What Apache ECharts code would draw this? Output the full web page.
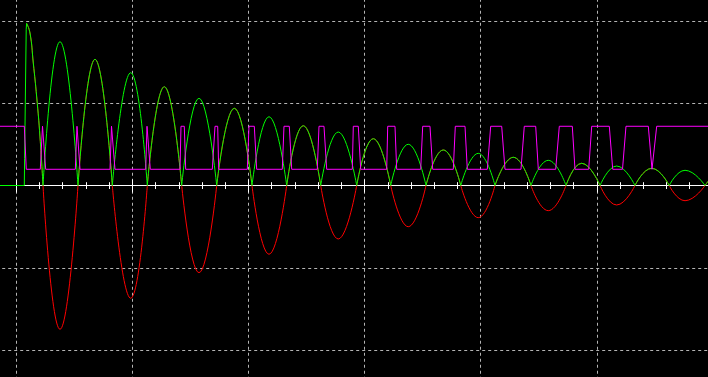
<!DOCTYPE html>
<html><head><meta charset="utf-8">
<script src="https://cdn.jsdelivr.net/npm/echarts@6/dist/echarts.min.js"></script>
<style>html,body{margin:0;padding:0;background:#000;}#c{width:708px;height:377px;}</style>
</head><body><div id="c"></div>
<script>
// Time in screen divisions, amplitude in vertical divisions
// Damped oscillation: zero crossings, extremes (time, value)
const zeroT = [0.230, 0.5314, 0.8269, 1.1283, 1.4246, 1.7261, 2.0301, 2.329, 2.622, 2.932,
               3.225, 3.529, 3.828, 4.123, 4.433, 4.735, 5.028, 5.329, 5.624, 5.932, 6.23];
const peakT = [0.3764, 0.6779, 0.9854, 1.2748, 1.5736, 1.8777, 2.1766, 2.472, 2.773, 3.075,
               3.376, 3.678, 3.979, 4.281, 4.582, 4.870, 5.171, 5.473, 5.760, 6.08];
const peakV = [-1.748, 1.534, -1.371, 1.201, -1.060, 0.939, -0.836, 0.727, -0.650, 0.569,
               -0.501, 0.432, -0.391, 0.343, -0.306, 0.270, -0.237, 0.209, -0.185, 0.16];
// First falling quarter after the step
const headT = [0.0887, 0.118, 0.1464, 0.1757, 0.2041, 0.230];
const headV = [1.972, 1.854, 1.489, 1.076, 0.590, 0];
// Step at trigger (rectified trace)
const leadT = [-0.3, 0.0689, 0.0715, 0.0801, 0.0853, 0.0887];
const leadV = [0, 0, 0.33, 0.33, 1.9, 1.972];
// Digital trace levels and edges
const magHigh = 0.72, magLow = 0.197;
const magStartT = [-0.3, 0.0689, 0.0861];
const riseStart = [0.2067,0.5082,0.8071,1.1146,1.4100,1.6882,1.9897,2.2911,2.5926,2.8941,3.1904,3.4832,3.7640,4.0569,4.3471,4.6460,4.9302,5.2214];
const riseEnd   = [0.2257,0.5228,0.8200,1.1258,1.4186,1.7115,2.0043,2.3057,2.6072,2.9027,3.1990,3.5004,3.7812,4.0861,4.3755,4.6770,4.9561,5.2515];
const fallStart = [0.2369,0.5340,0.8329,1.1387,1.4470,1.7347,2.0500,2.3514,2.6503,2.9457,3.2618,3.5633,3.8648,4.1809,4.4737,4.7890,5.1077,5.4436];
const fallEnd   = [0.2532,0.5487,0.8501,1.1542,1.4591,1.7433,2.0706,2.3721,2.6736,2.9664,3.2765,3.5866,3.8846,4.2093,4.4961,4.8122,5.1370,5.4755];
const magEndT = [5.4867, 5.5159, 6.3];

// Build series data
const BREAK = '-';
const redData = [], greenData = [];
headT.forEach((t, i) => { redData.push([t, headV[i]]); greenData.push([t, Math.abs(headV[i])]); });
for (let i = 0; i < peakT.length; i++) {
  redData.push([zeroT[i], BREAK]); greenData.push([zeroT[i], BREAK]);
  redData.push([zeroT[i], 0], [peakT[i], peakV[i]], [zeroT[i + 1], 0]);
  greenData.push([zeroT[i], 0], [peakT[i], Math.abs(peakV[i])], [zeroT[i + 1], 0]);
}
const leadData = leadT.map((t, i) => [t, leadV[i]]);
const magData = [[magStartT[0], magHigh], [magStartT[1], magHigh], [magStartT[2], magLow]];
riseStart.forEach((t, i) => {
  magData.push([t, magLow], [riseEnd[i], magHigh], [fallStart[i], magHigh], [fallEnd[i], magLow]);
});
magData.push([magEndT[0], magLow], [magEndT[1], magHigh], [magEndT[2], magHigh]);

const gridColor = '#b4b4b4';
const tickStyle = {color: '#ffffff', width: 1};
const xBase = {type: 'value', min: -1, max: 6, interval: 1, axisLabel: {show: false}};
const chart = echarts.init(document.getElementById('c'));
chart.setOption({
  animation: false,
  backgroundColor: '#000000',
  grid: {left: -99.8, right: -4.9, top: -61.25, bottom: -55.25, outerBoundsMode: 'none', containLabel: false},
  xAxis: [
    Object.assign({}, xBase, {
      position: 'bottom', offset: -246.75,
      axisLine: {show: true, onZero: false, lineStyle: tickStyle},
      axisTick: {show: true, inside: true, length: 6, lineStyle: tickStyle},
      minorTick: {show: true, splitNumber: 5, length: 3.3, lineStyle: tickStyle},
      splitLine: {show: true, lineStyle: {color: gridColor, width: 1, type: [3, 3]}}
    }),
    Object.assign({}, xBase, {
      position: 'top', offset: -246.75,
      axisLine: {show: false, onZero: false},
      axisTick: {show: true, inside: true, length: 7, lineStyle: tickStyle},
      minorTick: {show: true, splitNumber: 5, length: 3.5, lineStyle: tickStyle},
      splitLine: {show: false}
    })
  ],
  yAxis: {
    type: 'value', min: -3, max: 3, interval: 1,
    axisLine: {show: false}, axisTick: {show: false}, axisLabel: {show: false},
    splitLine: {show: true, lineStyle: {color: gridColor, width: 1, type: [3, 3]}}
  },
  series: [
    {type: 'line', data: redData, smooth: 0.5, showSymbol: false, symbol: 'none', z: 2,
     lineStyle: {color: '#ff0000', width: 1}, connectNulls: false},
    {type: 'line', data: leadData, showSymbol: false, symbol: 'none', z: 3,
     lineStyle: {color: '#00ff00', width: 1}},
    {type: 'line', data: greenData, smooth: 0.5, showSymbol: false, symbol: 'none', z: 3,
     lineStyle: {color: '#00ff00', width: 1}, connectNulls: false},
    {type: 'line', data: magData, showSymbol: false, symbol: 'none', z: 4,
     lineStyle: {color: '#ff00ff', width: 1}}
  ]
});
</script></body></html>
